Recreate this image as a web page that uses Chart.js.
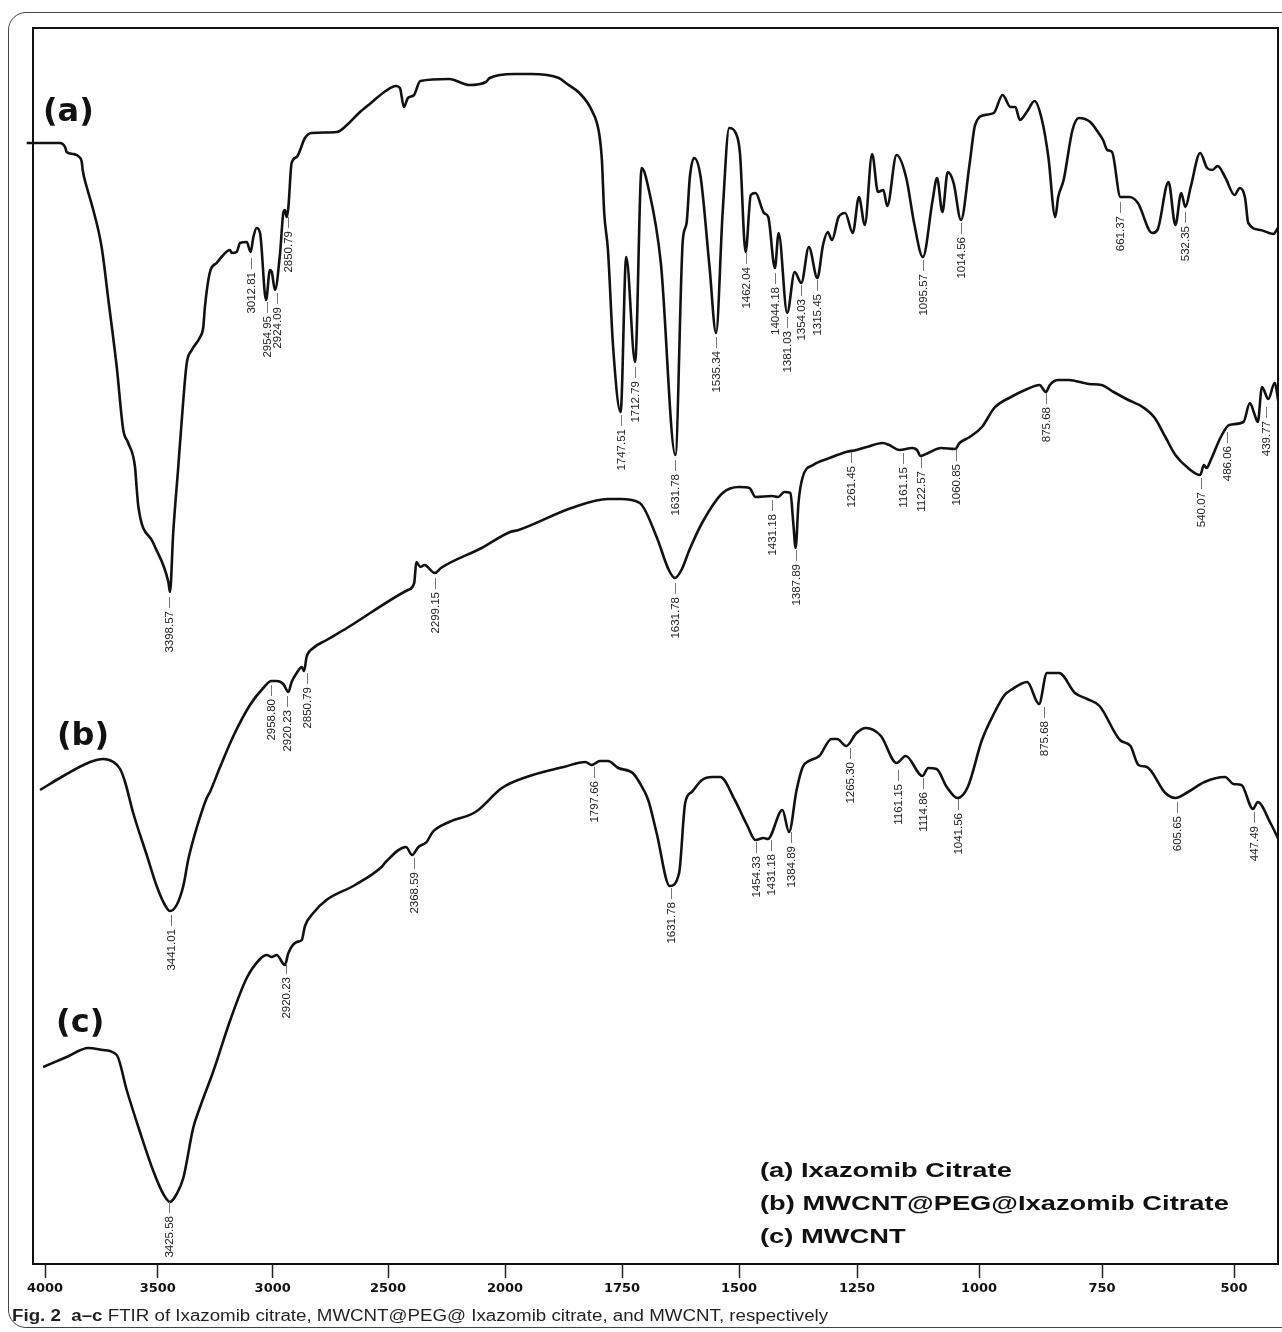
<!DOCTYPE html>
<html>
<head>
<meta charset="utf-8">
<title>FTIR</title>
<script src="https://cdn.jsdelivr.net/npm/chart.js@4.4.1/dist/chart.umd.min.js"></script>
<style>
    html, body { margin: 0; padding: 0; background: #fff; }
    #page { position: relative; width: 1282px; height: 1332px; overflow: hidden; }
    #box {
        position: absolute; left: 8px; top: 12px; width: 1320px; height: 1316px;
        border: 1.5px solid #444; border-radius: 18px; box-sizing: border-box;
    }
    #chart { position: absolute; left: 0; top: 0; }
    #legend {
        position: absolute; left: 760px; top: 1153px; color: #111; white-space: nowrap;
        font: bold 21px "Liberation Sans", Arial, sans-serif; line-height: 33px;
        transform: scaleX(1.3); transform-origin: 0 0;
    }
    #caption {
        position: absolute; left: 12px; top: 1306px; color: #231f20; white-space: nowrap;
        font: 16px "Liberation Sans", Arial, sans-serif; line-height: 20px;
        transform: scaleX(1.17); transform-origin: 0 0;
    }
</style>
</head>
<body>
<div id="page">
    <div id="box"></div>
    <canvas id="chart" width="1282" height="1332" style="width:1282px;height:1332px"></canvas>
    <div id="legend">
        <div>(a) Ixazomib Citrate</div>
        <div>(b) MWCNT@PEG@Ixazomib Citrate</div>
        <div>(c) MWCNT</div>
    </div>
    <div id="caption"><b>Fig. 2</b>&nbsp; <b>a–c</b> FTIR of Ixazomib citrate, MWCNT@PEG@ Ixazomib citrate, and MWCNT, respectively</div>
</div>

<script>
// Wavenumber axis (cm-1)
const TICK_WN = [4000, 3500, 3000, 2500, 2000, 1750, 1500, 1250, 1000, 750, 500];

// (a) Ixazomib citrate
const WN_A = [
    4081, 3934, 3911, 3904, 3875, 3848, 3837, 3833, 3815, 3786,
    3749, 3719, 3682, 3653, 3631, 3601, 3594, 3586, 3520, 3454,
    3447, 3433, 3411, 3389, 3374, 3352, 3316, 3302, 3295, 3273,
    3244, 3215, 3186, 3178, 3157, 3142, 3113, 3096, 3084, 3070,
    3055, 3029, 3012, 3004, 2990, 2968, 2954, 2947, 2939, 2932,
    2918, 2896, 2860, 2831, 2722, 2678, 2626, 2574, 2510, 2466,
    2449, 2432, 2415, 2389, 2362, 2239, 2152, 2082, 2065, 1981,
    1945, 1885, 1867, 1841, 1815, 1799, 1793, 1788, 1780, 1769,
    1753, 1741, 1722, 1708, 1694, 1667, 1636, 1620, 1612, 1605,
    1596, 1582, 1563, 1549, 1535, 1521, 1507, 1498, 1486, 1475,
    1465, 1447, 1438, 1424, 1416, 1398, 1382, 1368, 1352, 1334,
    1322, 1312, 1303, 1289, 1275, 1259, 1246, 1234, 1219, 1207,
    1196, 1188, 1169, 1149, 1133, 1115, 1095, 1086, 1075, 1064,
    1052, 1037, 1019, 1008, 988, 970, 952, 936, 926, 917,
    903, 887, 872, 859, 845, 839, 828, 810, 797, 774,
    757, 748, 740, 731, 715, 698, 682, 655, 645, 624,
    611, 600, 592, 582, 564, 551, 541, 531, 516, 499,
    489, 479, 473, 450, 425, 417
];
const T_A = [
    112.1, 112.1, 111.7, 111.2, 111.0, 110.7, 110.2, 109.4, 107.7, 105.4,
    101.7, 96.4, 89.7, 83.4, 82.1, 79.7, 77.7, 75.7, 72.1, 68.2,
    67.2, 73.1, 79.7, 86.4, 90.1, 91.4, 92.7, 93.7, 95.7, 99.2,
    100.1, 100.9, 101.4, 101.1, 101.2, 102.1, 102.2, 101.2, 102.7, 103.6,
    103.1, 96.4, 99.4, 99.2, 97.4, 101.1, 105.1, 105.4, 104.7, 105.7,
    110.1, 110.7, 112.6, 113.1, 113.2, 113.9, 115.1, 116.1, 117.3, 117.8,
    117.6, 115.7, 116.6, 116.9, 118.3, 118.5, 117.9, 118.2, 118.6, 119.0,
    119.0, 118.6, 118.0, 117.1, 115.4, 113.1, 110.4, 105.1, 101.4, 91.7,
    85.2, 100.7, 90.2, 109.6, 107.7, 100.1, 80.9, 102.4, 104.1, 108.7,
    110.6, 108.7, 99.7, 93.1, 105.1, 113.6, 113.1, 111.1, 101.2, 106.9,
    107.1, 105.1, 104.7, 99.6, 103.1, 95.1, 99.2, 98.1, 101.7, 98.6,
    101.9, 103.2, 102.4, 104.7, 105.1, 103.1, 106.7, 103.9, 111.0, 107.2,
    107.4, 105.8, 110.9, 108.6, 104.1, 100.7, 106.4, 108.6, 105.2, 109.2,
    108.1, 104.4, 110.1, 113.9, 114.9, 115.1, 116.9, 115.7, 115.7, 114.4,
    115.2, 116.3, 114.4, 110.7, 104.7, 106.7, 108.4, 113.4, 114.6, 114.2,
    113.1, 112.4, 111.4, 111.2, 106.7, 106.7, 106.1, 103.1, 103.4, 108.2,
    103.9, 107.1, 105.7, 107.7, 111.1, 109.6, 109.4, 109.8, 108.6, 106.9,
    107.6, 106.6, 104.1, 103.4, 103.0, 103.6
];

// (b) MWCNT@PEG@Ixazomib citrate
const WN_B = [
    4022, 3919, 3800, 3742, 3697, 3667, 3645, 3609, 3549, 3505,
    3469, 3447, 3418, 3389, 3367, 3331, 3287, 3273, 3229, 3171,
    3099, 3041, 3006, 2983, 2954, 2932, 2918, 2896, 2874, 2864,
    2853, 2824, 2766, 2678, 2415, 2388, 2379, 2362, 2344, 2300,
    2274, 2100, 1989, 1971, 1858, 1780, 1753, 1712, 1676, 1650,
    1637, 1623, 1606, 1579, 1535, 1500, 1478, 1465, 1430, 1417,
    1404, 1391, 1385, 1380, 1374, 1365, 1343, 1308, 1273, 1251,
    1230, 1197, 1184, 1163, 1137, 1127, 1120, 1104, 1078, 1049,
    1040, 1019, 994, 969, 935, 902, 877, 864, 856, 839,
    818, 776, 751, 728, 700, 673, 650, 630, 611, 587,
    564, 557, 552, 544, 525, 509, 482, 470, 462, 455,
    447, 435, 423, 415
];
const T_B = [
    47.4, 48.8, 50.2, 50.5, 50.2, 49.5, 48.2, 45.1, 40.9, 37.8,
    35.9, 35.3, 35.9, 37.8, 40.5, 43.6, 46.6, 47.2, 49.7, 52.8,
    55.9, 57.6, 58.3, 58.3, 58.0, 57.2, 58.2, 59.1, 59.7, 59.3,
    60.7, 61.6, 62.4, 63.6, 67.4, 68.1, 70.2, 69.7, 69.9, 69.1,
    69.6, 71.6, 73.2, 73.4, 75.6, 76.5, 76.5, 76.1, 72.7, 69.4,
    68.6, 69.4, 71.4, 74.1, 77.1, 77.7, 77.6, 76.7, 76.8, 76.7,
    77.2, 77.1, 74.1, 71.6, 76.1, 78.7, 79.9, 80.6, 81.2, 81.4,
    81.7, 82.1, 81.9, 81.4, 81.6, 81.4, 80.8, 81.1, 81.6, 81.5,
    82.1, 82.7, 83.7, 85.6, 86.7, 87.5, 87.9, 87.2, 87.9, 88.4,
    88.4, 88.0, 87.9, 87.2, 86.4, 85.7, 84.6, 82.7, 80.9, 79.6,
    78.9, 79.9, 79.6, 80.4, 82.7, 83.9, 84.2, 86.1, 85.1, 84.2,
    87.7, 86.5, 88.1, 85.9
];

// (c) MWCNT
const WN_C = [
    4008, 3904, 3808, 3742, 3682, 3638, 3579, 3520, 3476, 3447,
    3418, 3389, 3346, 3316, 3258, 3186, 3113, 3055, 3026, 3004,
    2983, 2947, 2932, 2896, 2874, 2860, 2824, 2767, 2643, 2528,
    2510, 2423, 2397, 2370, 2335, 2309, 2239, 2126, 2013, 1954,
    1875, 1828, 1815, 1797, 1780, 1758, 1727, 1712, 1694, 1676,
    1648, 1628, 1615, 1601, 1579, 1557, 1540, 1509, 1483, 1465,
    1448, 1439, 1408, 1394, 1378, 1365, 1352, 1330, 1304, 1292,
    1273, 1251, 1232, 1201, 1169, 1150, 1116, 1104, 1087, 1066,
    1044, 1023, 994, 969, 948, 935, 902, 878, 862, 837,
    805, 780, 755, 716, 696, 681, 665, 630, 611, 587,
    556, 517, 501, 486, 464, 455, 431, 415
];
const T_C = [
    19.7, 20.7, 21.6, 21.4, 20.9, 17.4, 13.2, 9.3, 7.0, 6.2,
    7.0, 8.6, 13.6, 15.7, 19.3, 24.3, 28.6, 30.5, 30.9, 30.7,
    30.9, 29.9, 31.1, 32.2, 32.4, 33.8, 35.1, 36.4, 37.9, 39.7,
    40.2, 41.7, 40.9, 41.7, 42.2, 43.2, 44.2, 45.2, 47.6, 48.7,
    49.7, 50.2, 49.9, 50.3, 50.3, 49.6, 49.1, 48.1, 46.4, 43.1,
    37.8, 39.1, 46.1, 47.2, 48.4, 48.7, 48.7, 46.4, 43.9, 42.4,
    42.6, 42.5, 45.4, 43.2, 47.4, 49.7, 50.3, 50.8, 52.5, 52.5,
    51.8, 53.1, 53.6, 52.8, 50.1, 50.8, 48.8, 49.6, 49.5, 47.7,
    46.6, 47.7, 52.4, 55.1, 56.9, 57.4, 58.2, 56.0, 59.1, 59.1,
    57.1, 56.5, 55.8, 52.4, 51.8, 49.9, 49.7, 47.1, 46.6, 47.2,
    48.2, 48.7, 48.0, 47.9, 45.5, 46.2, 44.1, 42.4
];

// peak labels: [text, wavenumber, value where the label starts]
const PEAKS_A = [
    ["3398.57", 3450, 66.7], ["3012.81", 3096, 100.6], ["2954.95", 3026, 96.2],
    ["2924.09", 2983, 97.1], ["2850.79", 2932, 104.7], ["1747.51", 1753, 84.9],
    ["1712.79", 1722, 89.7], ["1631.78", 1636, 80.4], ["1535.34", 1549, 92.7],
    ["1462.04", 1486, 101.1], ["14044.18", 1424, 99.1], ["1381.03", 1398, 94.7],
    ["1354.03", 1368, 97.9], ["1315.45", 1334, 98.4], ["1095.57", 1115, 100.4],
    ["1014.56", 1037, 104.1], ["661.37", 715, 106.2], ["532.35", 592, 105.2]
];
const PEAKS_B = [
    ["3441.01", 3444, 34.9], ["2958.80", 3009, 57.9], ["2920.23", 2939, 56.8],
    ["2850.79", 2853, 59.1], ["2299.15", 2300, 68.6], ["1631.78", 1637, 68.1],
    ["1431.18", 1430, 76.4], ["1387.89", 1380, 71.4], ["1261.45", 1263, 81.2],
    ["1161.15", 1156, 81.1], ["1122.57", 1118, 80.7], ["1060.85", 1047, 81.4],
    ["875.68", 864, 87.1], ["540.07", 562, 78.6], ["486.06", 513, 83.2],
    ["439.77", 439, 85.7]
];
const PEAKS_C = [
    ["3425.58", 3450, 6.2], ["2920.23", 2941, 30.1], ["2368.59", 2388, 40.6],
    ["1797.66", 1810, 49.7], ["1631.78", 1645, 37.6], ["1454.33", 1463, 42.2],
    ["1431.18", 1432, 42.4], ["1384.89", 1389, 43.2], ["1265.30", 1265, 51.6],
    ["1161.15", 1167, 49.4], ["1114.86", 1114, 48.6], ["1041.56", 1043, 46.5],
    ["875.68", 867, 55.7], ["605.65", 608, 46.2], ["447.49", 462, 45.2]
];

const TAGS = [["(a)", 4009, 115.1], ["(b)", 3947, 52.7], ["(c)", 3951, 24.0]];

// The printed axis is not evenly spaced (scale change at 2000 and a slight stretch),
// so the scale follows the gaps between the printed ticks.
const AXIS_PAD_LEFT = 12;
const AXIS_PAD_RIGHT = 44;
const TICK_GAPS = [112.8, 114.9, 115.3, 117, 117, 117, 118, 122, 123, 132];
const AXIS_SPAN = AXIS_PAD_LEFT + TICK_GAPS.reduce((s, g) => s + g, 0) + AXIS_PAD_RIGHT;

function wnToPos(wn) {
    if (wn >= TICK_WN[0]) {
        return AXIS_PAD_LEFT - (wn - TICK_WN[0]) * TICK_GAPS[0] / (TICK_WN[0] - TICK_WN[1]);
    }
    let pos = AXIS_PAD_LEFT;
    for (let i = 0; i < TICK_GAPS.length; i++) {
        const hi = TICK_WN[i], lo = TICK_WN[i + 1];
        if (wn >= lo) return pos + (hi - wn) / (hi - lo) * TICK_GAPS[i];
        pos += TICK_GAPS[i];
    }
    const n = TICK_WN.length;
    return pos + (TICK_WN[n - 1] - wn) * TICK_GAPS[n - 2] / (TICK_WN[n - 2] - TICK_WN[n - 1]);
}

class FtirScale extends Chart.LinearScale {
    buildTicks() {
        return TICK_WN.map(value => ({ value }));
    }
    getPixelForValue(value) {
        return this.left + this.width * wnToPos(value) / AXIS_SPAN;
    }
    getValueForPixel(pixel) {
        const target = (pixel - this.left) / this.width * AXIS_SPAN;
        let lo = 0, hi = 5000;
        for (let k = 0; k < 40; k++) {
            const mid = (lo + hi) / 2;
            if (wnToPos(mid) > target) lo = mid; else hi = mid;
        }
        return (lo + hi) / 2;
    }
}
FtirScale.id = "ftir";
Chart.register(FtirScale);

function toPoints(wn, t) {
    return wn.map((w, i) => ({ x: w, y: t[i] }));
}

const decor = {
    id: "ftirDecor",
    beforeDatasetsDraw(chart) {
        const { ctx, chartArea: a } = chart;
        ctx.save();
        ctx.strokeStyle = "#111";
        ctx.lineWidth = 2;
        ctx.strokeRect(a.left, a.top, a.right - a.left, a.bottom - a.top);
        ctx.restore();
    },
    afterDatasetsDraw(chart) {
        const ctx = chart.ctx;
        const xs = chart.scales.x, ys = chart.scales.y;

        // peak labels
        ctx.save();
        ctx.font = '11.5px "Liberation Sans", Arial, sans-serif';
        ctx.fillStyle = "#222";
        ctx.strokeStyle = "#777";
        ctx.lineWidth = 1;
        for (const list of [PEAKS_A, PEAKS_B, PEAKS_C]) {
            for (const [text, wn, v] of list) {
                const x = Math.round(xs.getPixelForValue(wn)) + 0.5;
                const y = ys.getPixelForValue(v);
                ctx.beginPath();
                ctx.moveTo(x, y);
                ctx.lineTo(x, y + 11);
                ctx.stroke();
                ctx.save();
                ctx.translate(x, y + 14);
                ctx.rotate(-Math.PI / 2);
                ctx.textAlign = "right";
                ctx.textBaseline = "middle";
                ctx.fillText(text, 0, 0);
                ctx.restore();
            }
        }
        ctx.restore();

        // (a) (b) (c) tags
        ctx.save();
        ctx.font = 'bold 32px "DejaVu Sans", sans-serif';
        ctx.fillStyle = "#111";
        ctx.textAlign = "left";
        ctx.textBaseline = "middle";
        for (const [text, wn, v] of TAGS) {
            ctx.fillText(text, xs.getPixelForValue(wn), ys.getPixelForValue(v));
        }
        ctx.restore();
    }
};

const lineStyle = {
    borderColor: "#111",
    borderWidth: 2.6,
    pointRadius: 0,
    fill: false,
    cubicInterpolationMode: "monotone"
};

new Chart(document.getElementById("chart"), {
    type: "line",
    data: {
        datasets: [
            { ...lineStyle, label: "(a) Ixazomib Citrate", data: toPoints(WN_A, T_A), clip: false },
            { ...lineStyle, label: "(b) MWCNT@PEG@Ixazomib Citrate", data: toPoints(WN_B, T_B) },
            { ...lineStyle, label: "(c) MWCNT", data: toPoints(WN_C, T_C) }
        ]
    },
    options: {
        responsive: false,
        maintainAspectRatio: false,
        animation: false,
        events: [],
        layout: { padding: { left: 33, right: 4, top: 28, bottom: 0 } },
        plugins: {
            legend: { display: false },
            tooltip: { enabled: false }
        },
        scales: {
            x: {
                type: "ftir",
                min: 416,
                max: 4053,
                afterFit: scale => { scale.height = 68; },
                border: { display: false },
                grid: {
                    drawOnChartArea: false,
                    drawTicks: true,
                    tickLength: 14,
                    tickColor: "#222",
                    tickWidth: 1.5
                },
                ticks: {
                    autoSkip: false,
                    maxRotation: 0,
                    minRotation: 0,
                    padding: 3,
                    color: "#111",
                    font: { family: '"DejaVu Sans", sans-serif', weight: "bold", size: 13 },
                    callback: value => String(value)
                }
            },
            y: {
                type: "linear",
                display: false,
                min: 0,
                max: 123.6
            }
        }
    },
    plugins: [decor]
});
</script>
</body>
</html>
